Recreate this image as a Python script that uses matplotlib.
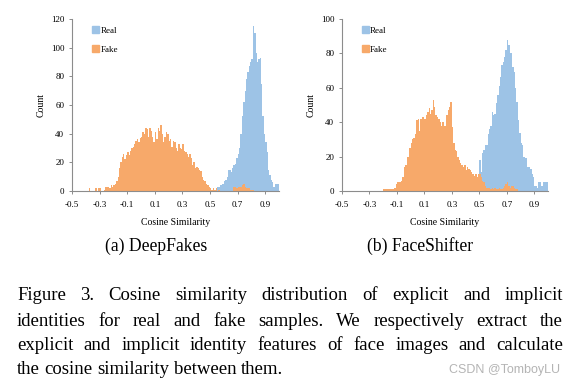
import numpy as np
import matplotlib.pyplot as plt
from matplotlib.patches import Patch

# ---- data (counts per 0.01 bin) -------------------------------------------
BIN = 0.01

# (a) DeepFakes
df_fake_start = -0.40
df_fake = [0, 0, 2, 0, 0, 0, 0, 2, 0, 2,
           2, 0, 0, 1, 3, 3, 3, 2, 4, 3,
           4, 5, 7, 10, 16, 20, 24, 26, 22, 25,
           27, 25, 28, 30, 31, 33, 35, 36, 34, 37,
           38, 41, 40, 44, 43, 38, 44, 42, 38, 34,
           41, 36, 44, 42, 46, 40, 34, 38, 41, 40,
           35, 36, 31, 35, 34, 30, 28, 33, 30, 29,
           33, 28, 27, 26, 24, 26, 23, 18, 20, 16,
           17, 16, 15, 14, 10, 8, 7, 5, 4, 3,
           2, 1, 2, 1, 2, 0, 1, 0, 0, 0,
           0, 0, 0, 0, 0, 0, 0, 3, 3, 2,
           3, 3, 3, 4, 5, 3, 2, 2, 2, 1,
           1, 1]
df_real_start = 0.50
df_real = [0, 0, 1, 1, 2, 3, 3, 4, 4, 5,
           7, 8, 10, 15, 15, 13, 16, 18, 19, 23,
           26, 30, 40, 52, 62, 70, 78, 83, 87, 90,
           92, 115, 110, 96, 90, 92, 93, 75, 52, 40,
           34, 27, 15, 11, 8, 6, 3, 5, 5, 5]

# (b) FaceShifter
fs_fake_start = -0.20
fs_fake = [1, 1, 1, 1, 1, 1, 1, 1, 2, 4,
           5, 5, 5, 6, 8, 14, 15, 20, 20, 25,
           28, 30, 31, 33, 41, 42, 35, 42, 43, 43,
           42, 44, 46, 48, 45, 47, 53, 49, 44, 43,
           42, 40, 38, 40, 38, 38, 44, 47, 49, 52,
           37, 28, 24, 23, 20, 18, 16, 15, 14, 15,
           12, 14, 13, 12, 11, 10, 9, 10, 8, 10,
           10, 8, 6, 5, 3, 2, 2, 2, 1, 2,
           1, 2, 1, 1, 2, 1, 1, 2, 3, 4,
           5, 3, 2, 3, 3, 2, 1, 1]
fs_real_start = 0.50
fs_real = [18, 11, 22, 24, 27, 27, 33, 36, 38, 46,
           44, 45, 51, 56, 61, 66, 73, 75, 78, 82,
           88, 85, 80, 80, 72, 69, 60, 52, 41, 34,
           28, 27, 20, 19, 19, 14, 14, 13, 10, 8,
           3, 3, 2, 5, 5, 3, 5, 5, 5, 5]

x_ticks = [-0.5, -0.3, -0.1, 0.1, 0.3, 0.5, 0.7, 0.9]
x_ticklabels = ["-0.5", "-0.3", "-0.1", "0.1", "0.3", "0.5", "0.7", "0.9"]

panels = [
    ("(a) DeepFakes", df_real_start, df_real, df_fake_start, df_fake, 120),
    ("(b) FaceShifter", fs_real_start, fs_real, fs_fake_start, fs_fake, 100),
]

caption = [
    "Figure 3.  Cosine similarity distribution of explicit and implicit",
    "identities for real and fake samples.  We respectively extract the",
    "explicit and implicit identity features of face images and calculate",
    "the cosine similarity between them.",
]

REAL_C = "#9dc3e6"
FAKE_C = "#f7a96a"
AXIS_C = "#8c8c8c"

W, H = 575, 387
plt.rcParams['font.family'] = ['Liberation Serif', 'DejaVu Serif']
fig = plt.figure(figsize=(W / 100, H / 100), dpi=100)

# axes boxes in pixels: (left, right, top, bottom)
boxes = [(72, 279, 19, 191), (342, 548, 19, 191)]
sub_x = [156, 420]

for (title, rs, real, fs, fake, ymax), (l, r, t, b), sx in zip(panels, boxes, sub_x):
    ax = fig.add_axes([l / W, 1 - b / H, (r - l) / W, (b - t) / H])
    re = rs + BIN * np.arange(len(real) + 1)
    fe = fs + BIN * np.arange(len(fake) + 1)
    ax.stairs(real, re, fill=True, color=REAL_C, linewidth=0)
    ax.stairs(fake, fe, fill=True, color=FAKE_C, linewidth=0)

    ax.set_xlim(-0.5, 1.0)
    ax.set_ylim(0, ymax)
    ax.set_xticks(x_ticks)
    ax.set_xticklabels(x_ticklabels)
    ax.set_yticks(np.arange(0, ymax + 1, 20))
    for side in ("top", "right"):
        ax.spines[side].set_visible(False)
    for side in ("left", "bottom"):
        ax.spines[side].set_color(AXIS_C)
        ax.spines[side].set_linewidth(0.8)
    ax.tick_params(length=2.5, width=0.7, color=AXIS_C, labelsize=6.5, pad=3)
    ax.tick_params(axis="x", pad=4.5)
    ax.set_xlabel("Cosine Similarity", fontsize=7, labelpad=7)
    ax.set_ylabel("Count", fontsize=7, labelpad=4)

    ax.legend(handles=[Patch(color=REAL_C, label="Real"), Patch(color=FAKE_C, label="Fake")],
              loc="upper left", bbox_to_anchor=(0.08, 0.98), frameon=False,
              fontsize=6.5, handlelength=0.75, handleheight=0.75,
              handletextpad=0.15, labelspacing=1.2, borderaxespad=0)

    fig.text(sx / W, 1 - 246 / H, title, fontsize=12.7, ha="center", va="center")

# justified caption
renderer = fig.canvas.get_renderer()
x0, x1 = 17, 563
base_y = [296, 321, 346, 369]
for i, (line, y) in enumerate(zip(caption, base_y)):
    words = line.split()
    texts = [fig.text(0, 1 - y / H, w, fontsize=13.5, va="center") for w in words]
    widths = [tx.get_window_extent(renderer).width for tx in texts]
    if i < len(caption) - 1:
        gap = (x1 - x0 - sum(widths)) / (len(words) - 1)
    else:
        gap = texts[0].get_fontsize() * 100 / 72 * 0.25
    x = x0
    for tx, wd in zip(texts, widths):
        tx.set_x(x / W)
        x += wd + gap

fig.text(560 / W, 1 - 370 / H, "CSDN @TomboyLU", fontsize=9, color="#b4b4b4",
         ha="right", va="center", family=["Liberation Sans", "DejaVu Sans"])

fig.savefig("out.png", dpi=100)
